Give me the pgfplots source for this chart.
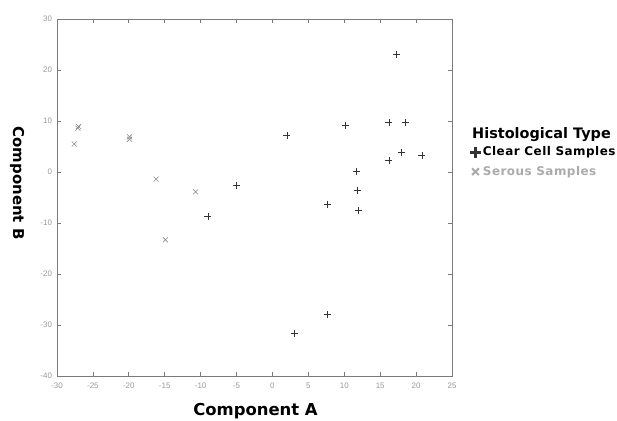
\documentclass[border=0pt]{standalone}
\usepackage{pgfplots}
\pgfplotsset{compat=1.18}
\usepackage{fontspec}
\setmainfont{DejaVu Sans}
\newfontfamily\tickfont{Liberation Sans}
\newfontfamily\legfont[LetterSpace=4]{DejaVu Sans}
\definecolor{axgray}{HTML}{7A7A7A}
\definecolor{ccol}{HTML}{333333}
\definecolor{scol}{HTML}{8A8A8A}
\definecolor{slegend}{HTML}{ABABAB}
\begin{document}
\begin{tikzpicture}
\useasboundingbox (0,0) rectangle (617bp,421bp);
\begin{axis}[
  at={(57bp,45bp)}, anchor=south west,
  scale only axis, width=395bp, height=357bp,
  xmin=-30, xmax=25, ymin=-40, ymax=30,
  xtick={-30,-25,...,25}, ytick={-40,-30,...,30},
  tick align=inside, major tick length=4bp,
  axis line style={axgray, line width=0.9pt},
  every tick/.style={axgray, line width=0.7pt},
  tick label style={font=\tickfont\fontsize{8}{9}\selectfont, text=gray!80},
  xticklabel style={yshift=-3bp},
  yticklabel style={xshift=-1.5bp},
  /pgf/number format/assume math mode=true,
  xlabel={\bfseries\fontsize{16.5}{18}\selectfont Component A},
  ylabel={\bfseries\fontsize{15}{17}\selectfont Component B},
  xlabel style={at={(axis description cs:0.5025,-0.098)}, anchor=center},
  ylabel style={at={(axis description cs:-0.101,0.54)}, anchor=center, rotate=180},
  legend style={at={(axis description cs:1.045,0.648)}, anchor=north west, draw=none, fill=none,
    font=\legfont\bfseries\fontsize{12}{13}\selectfont, row sep=5pt, inner sep=0pt,
    /tikz/every even column/.append style={column sep=2pt}},
  legend cell align=left,
]
\addlegendimage{only marks, mark=+, mark size=5.5pt, line width=2.8pt, ccol}
\addlegendimage{only marks, mark=x, mark size=4.8pt, line width=2pt, slegend}
\addlegendentry{Clear Cell Samples}
\addlegendentry{\textcolor{slegend}{Serous Samples}}
% Clear cell samples
\addplot[only marks, mark=+, mark size=3.5pt, ccol, line width=0.6pt, forget plot] coordinates {
(-9.0,-8.7) (-5.0,-2.6) (2.0,7.1) (10.2,9.1) (16.2,9.7) (18.5,9.7) (17.3,23.1)
(18.0,3.9) (20.8,3.3) (16.2,2.2) (11.7,0.1) (11.8,-3.6) (7.7,-6.3) (12.0,-7.6)
(7.7,-27.9) (3.1,-31.6)
};
% Serous samples
\addplot[only marks, mark=x, mark size=3.5pt, scol, line width=0.6pt, forget plot] coordinates {
(-27.6,5.5) (-27.1,8.6) (-27.0,8.9) (-19.9,6.4) (-19.9,6.9) (-16.2,-1.4) (-10.7,-3.9) (-14.9,-13.3)
};
\end{axis}
\node[anchor=west, font=\bfseries\fontsize{14.5}{16}\selectfont, inner sep=0pt] at (472bp,286bp) {Histological Type};
\end{tikzpicture}
\end{document}
